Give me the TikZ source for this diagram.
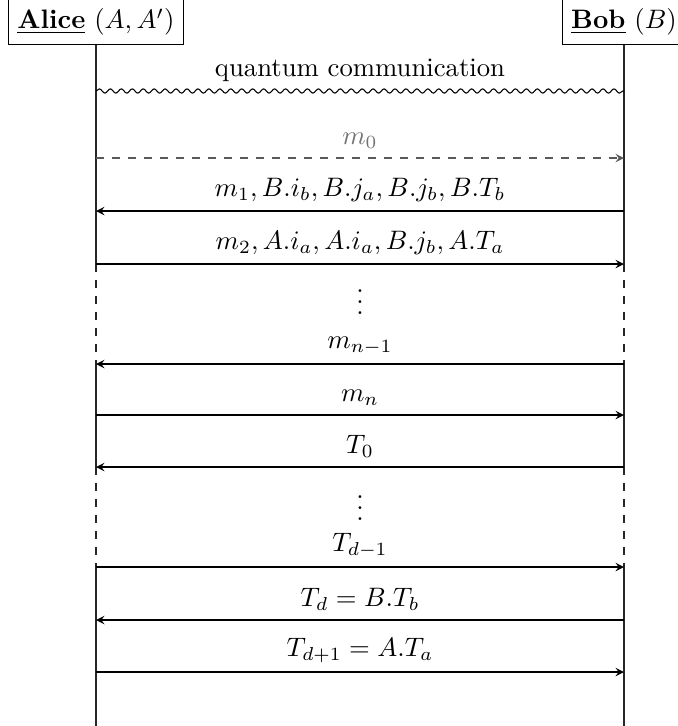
\documentclass[tikz,border=0pt]{standalone}
\usetikzlibrary{decorations.pathmorphing,arrows}
\begin{document}
\begin{tikzpicture}[x=0.3745pt,y=-0.3745pt,>=stealth,
  actor/.style={draw,inner sep=3.33pt,minimum height=15.5pt},
  msg/.style={->,line width=0.4pt},
  lifeline/.style={line width=0.4pt,black!85},
  lbl/.style={above},
  dotsnode/.style={inner sep=0pt}]
\useasboundingbox (0,0) rectangle (678,726);
% actors
\node[actor] (alice) at (96,22) {\underline{\textbf{Alice}} $(A,A')$};
\node[actor] (bob) at (624,22) {\underline{\textbf{Bob}} $(B)$};
% lifeline coordinates
\foreach \n/\y in {1/264,2/364,3/467,4/567,5/726}{
  \coordinate (al\n) at (96,\y);
  \coordinate (bl\n) at (624,\y);
}
\draw[lifeline] (alice.south) -- (al1);
\draw[lifeline,dashed] (al1) -- (al2);
\draw[lifeline] (al2) -- (al3);
\draw[lifeline,dashed] (al3) -- (al4);
\draw[lifeline] (al4) -- (al5);
\draw[lifeline] (bob.south) -- (bl1);
\draw[lifeline,dashed] (bl1) -- (bl2);
\draw[lifeline] (bl2) -- (bl3);
\draw[lifeline,dashed] (bl3) -- (bl4);
\draw[lifeline] (bl4) -- (bl5);
% message coordinates
\foreach \n/\y in {q/91,0/158,1/211,2/264,3/364,4/415,5/467,6/567,7/620,8/672}{
  \coordinate (a\n) at (96,\y);
  \coordinate (b\n) at (624,\y);
}
\draw[decorate,decoration={snake,segment length=4.1pt,amplitude=0.8pt}] (aq) -- node[lbl] (lq) {quantum communication} (bq);
\draw[msg,dashed,black!65] (a0) -- node[lbl,text=black!55] (l0) {$m_0$} (b0);
\draw[msg] (b1) -- node[lbl] (l1) {$m_1, B.i_b, B.j_a, B.j_b, B.T_b$} (a1);
\draw[msg] (a2) -- node[lbl] (l2) {$m_2, A.i_a, A.i_a, B.j_b, A.T_a$} (b2);
\node[dotsnode] (d1) at (360,294) {$\vdots$};
\draw[msg] (b3) -- node[lbl] (l3) {$m_{n-1}$} (a3);
\draw[msg] (a4) -- node[lbl] (l4) {$m_n$} (b4);
\draw[msg] (b5) -- node[lbl] (l5) {$T_0$} (a5);
\node[dotsnode] (d2) at (360,500) {$\vdots$};
\draw[msg] (a6) -- node[lbl] (l6) {$T_{d-1}$} (b6);
\draw[msg] (b7) -- node[lbl] (l7) {$T_d = B.T_b$} (a7);
\draw[msg] (a8) -- node[lbl] (l8) {$T_{d+1} = A.T_a$} (b8);
\end{tikzpicture}
\end{document}
